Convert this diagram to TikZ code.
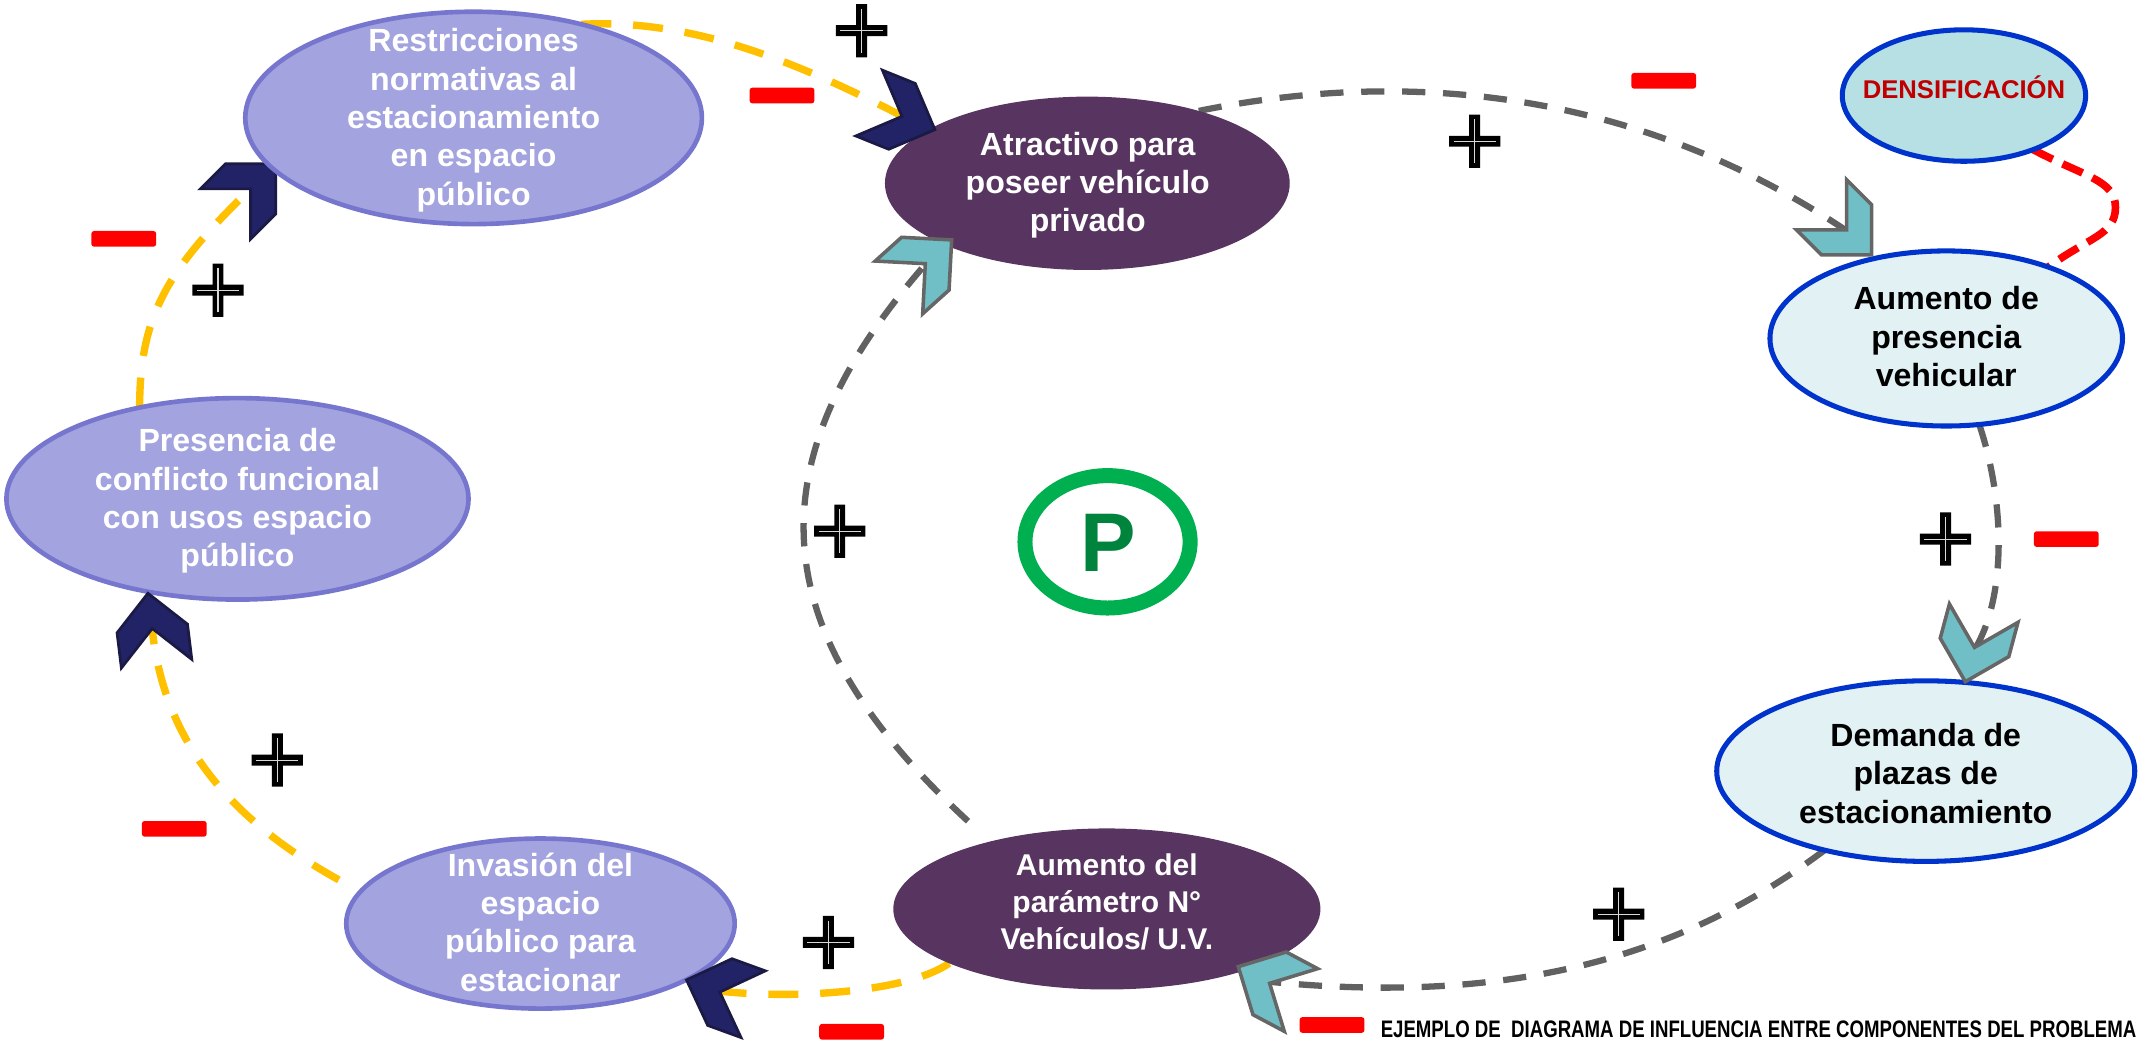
\documentclass[tikz,border=0pt]{standalone}
\usepackage{fontspec}
\setmainfont{Liberation Sans}
\newfontfamily\narrowsans[FakeStretch=0.78]{Liberation Sans}
\usetikzlibrary{shapes.geometric}

\definecolor{lavfill}{HTML}{A3A3DF}
\definecolor{lavline}{HTML}{7676CF}
\definecolor{plum}{HTML}{583560}
\definecolor{icefill}{HTML}{E2F2F4}
\definecolor{densfill}{HTML}{B7E0E4}
\definecolor{deepblue}{HTML}{0033CC}
\definecolor{tealchev}{HTML}{71BFC6}
\definecolor{chevgray}{HTML}{666666}
\definecolor{navychev}{HTML}{222266}
\definecolor{navyline}{HTML}{1A1A44}
\definecolor{linkgray}{HTML}{616161}
\definecolor{linkyellow}{HTML}{FFC000}
\definecolor{densred}{HTML}{C00000}
\definecolor{ringgreen}{HTML}{00B050}
\definecolor{pgreen}{HTML}{00843D}

\pgfdeclarelayer{links}
\pgfsetlayers{links,main}

\tikzset{
  chevron/.pic={
    \path[pic actions, line join=miter]
      (0,0) -- (-26,26) -- (-52,26) -- (-26,0) -- (-52,-26) -- (-26,-26) -- cycle;
    \coordinate (-end) at (-23,0);
  },
  plussign/.pic={
    \fill[black] (-18.8,-4) rectangle (18.8,4) (-4,-19.5) rectangle (4,19.5);
    \draw[line width=0.8pt, white!70!gray] (-15.5,0) -- (15.5,0) (0,-16) -- (0,16);
  },
}

\begin{document}
\begin{tikzpicture}[x=1pt, y=-1pt,
  ell/.style={ellipse, inner sep=0pt, outer sep=0pt},
  lavnode/.style={ell, fill=lavfill, draw=lavline, line width=3.4pt},
  plumnode/.style={ell, fill=plum},
  icenode/.style={ell, fill=icefill, draw=deepblue, line width=3.7pt},
  wtext/.style={align=center, inner sep=0pt, text=white,
    font=\bfseries\fontsize{23.5pt}{28.1pt}\selectfont},
  btext/.style={wtext, text=black},
  tealchevron/.style={fill=tealchev, draw=chevgray, line width=2.6pt},
  navychevron/.style={fill=navychev, draw=navyline, line width=2pt},
  graylink/.style={draw=linkgray, line width=4.6pt, dash pattern=on 17pt off 13pt},
  yellowlink/.style={draw=linkyellow, line width=5.4pt, dash pattern=on 22pt off 16pt},
  redlink/.style={draw=red, line width=5.6pt, dash pattern=on 16pt off 8pt},
  minussign/.style={rectangle, fill=red, rounded corners=2pt,
    minimum width=47.5pt, minimum height=11.5pt, inner sep=0pt},
]
\useasboundingbox (0,0) rectangle (1568,762);

% chevron tucked under the regulation bubble
\pic[navychevron, rotate=45] (c8) at (202,120) {chevron};

% bubbles
\node[lavnode, minimum width=334.6pt, minimum height=155.6pt] (R) at (347,86.4) {};
\node[plumnode, minimum width=296.6pt, minimum height=127pt] (A) at (796.7,134.3) {};
\node[icenode, fill=densfill, minimum width=178.3pt, minimum height=96.3pt] (D) at (1439,70) {};
\node[icenode, minimum width=258.3pt, minimum height=128.3pt] (AP) at (1426,248) {};
\node[icenode, minimum width=306.3pt, minimum height=132.3pt] (DP) at (1411,565) {};
\node[plumnode, minimum width=313pt, minimum height=118pt] (AN) at (811,666) {};
\node[lavnode, minimum width=284.6pt, minimum height=124.6pt] (I) at (396,676.7) {};
\node[lavnode, minimum width=338.6pt, minimum height=147.6pt] (PC) at (174,365.5) {};

% bubble texts
\node[wtext] (Rt) at (347,88) {Restricciones\\normativas al\\estacionamiento\\en espacio\\público};
\node[wtext] (At) at (797,135.7) {Atractivo para\\poseer vehículo\\privado};
\node[btext, anchor=base, text=densred, font=\bfseries\fontsize{18.8pt}{22pt}\selectfont]
  (Dt) at (1439,72.5) {DENSIFICACIÓN};
\node[btext] (APt) at (1426,246.7) {Aumento de\\presencia\\vehicular};
\node[btext] (DPt) at (1411,566.7) {Demanda de\\plazas de\\estacionamiento};
\node[wtext, font=\bfseries\fontsize{22pt}{27pt}\selectfont] (ANt) at (811,661)
  {Aumento del\\parámetro N°\\Vehículos/ U.V.};
\node[wtext] (It) at (396,675.7) {Invasión del\\espacio\\público para\\estacionar};
\node[wtext] (PCt) at (174,367.2) {Presencia de\\conflicto funcional\\con usos espacio\\público};

% arrow heads
\pic[navychevron, rotate=-22] (c1) at (685,95) {chevron};
\pic[tealchevron, rotate=42] (c2) at (697.3,175.8) {chevron};
\pic[tealchevron, rotate=-45] (c3) at (1371.4,186.8) {chevron};
\pic[tealchevron, rotate=-105] (c4) at (1440,499.5) {chevron};
\pic[tealchevron, rotate=152] (c5) at (907.3,708.3) {chevron};
\pic[navychevron, rotate=160] (c6) at (503,718) {chevron};
\pic[navychevron, rotate=97] (c7) at (108.4,434.7) {chevron};

% influence links
\coordinate (redturn) at (1550,152);
\begin{pgfonlayer}{links}
\draw[graylink] (A.33) .. controls +(166.6,-34) and +(-145,-98) .. (c3-end);
\draw[graylink] (AP.-69) .. controls +(19.2,57.2) and +(24.3,-38.3) .. (c4-end);
\draw[graylink] (DP.218) .. controls +(-104,78) and +(180,18) .. (c5-end);
\draw[graylink, shorten <=22pt] (AN.150) .. controls +(-167.5,-154.5) and +(-130,147.5) .. (c2-end);
\draw[yellowlink] (R.41) .. controls +(84.5,-4.4) and +(-75,-38.4) .. (c1-end);
\draw[yellowlink] (PC.137) .. controls +(0,-68) and +(-63,60.6) .. (c8-end);
\draw[yellowlink, shorten <=18pt] (I.170) .. controls +(-90,-50) and +(8,90) .. (c7-end);
\draw[yellowlink] (AN.199) .. controls +(-32,22) and +(53,6.5) .. (c6-end);
\draw[redlink] (D.-38) .. controls +(38,20) and +(0,-20) .. (redturn)
  .. controls +(0,20) and +(30,-22) .. (AP.35);
\end{pgfonlayer}

% polarity signs
\pic (p1) at (631.3,22.5) {plussign};
\pic (p2) at (1080.5,103.5) {plussign};
\pic (p3) at (1425.5,395) {plussign};
\pic (p4) at (1186,669.8) {plussign};
\pic (p5) at (607,690.5) {plussign};
\pic (p6) at (203.2,556.9) {plussign};
\pic (p7) at (159.7,212.6) {plussign};
\pic (p8) at (615.3,389.2) {plussign};

\node[minussign] (m1) at (573,70) {};
\node[minussign] (m2) at (1219,59.2) {};
\node[minussign] (m3) at (1514,395) {};
\node[minussign] (m4) at (976,751) {};
\node[minussign] (m5) at (624,756) {};
\node[minussign] (m6) at (127.7,607.3) {};
\node[minussign] (m7) at (90.7,175) {};

% parking symbol
\node[ell, draw=ringgreen, line width=11pt, minimum width=121pt, minimum height=97pt] (ring) at (811.5,397) {};
\node[inner sep=0pt, text=pgreen, font=\bfseries\fontsize{61pt}{61pt}\selectfont] (Pletter) at (812,398) {P};

% caption
\node[anchor=base east, inner sep=0pt, font=\narrowsans\bfseries\fontsize{17.5pt}{20pt}\selectfont]
  (caption) at (1565.5,760) {EJEMPLO DE \ DIAGRAMA DE INFLUENCIA ENTRE COMPONENTES DEL PROBLEMA};
\end{tikzpicture}
\end{document}
